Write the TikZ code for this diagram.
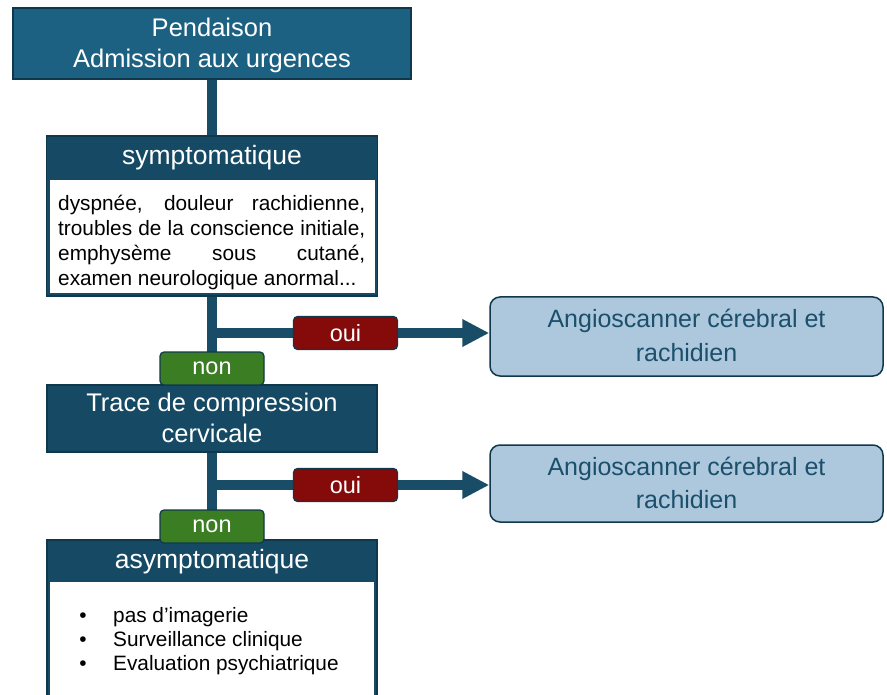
\documentclass[tikz,border=0pt]{standalone}
\usepackage{fontspec}
\setmainfont{Liberation Sans}
\usetikzlibrary{arrows.meta}
\definecolor{topfill}{HTML}{1C6182}
\definecolor{darkfill}{HTML}{164A64}
\definecolor{edge}{HTML}{10384C}
\definecolor{wirecol}{HTML}{194C66}
\definecolor{ouifill}{HTML}{850A0A}
\definecolor{nonfill}{HTML}{3B7D23}
\definecolor{angiofill}{HTML}{ADC8DC}
\definecolor{angiotext}{HTML}{1B4F6B}
\begin{document}
\begin{tikzpicture}[x=1pt,y=-1pt,
  box/.style={rectangle, draw=edge, line width=1.2pt, inner sep=0pt},
  bodyarea/.style={rectangle, fill=white, inner sep=0pt, outer sep=0pt},
  title/.style={text=white, inner sep=0pt, anchor=base, font=\fontsize{25.5pt}{31pt}\selectfont},
  head/.style={text=white, inner sep=0pt, anchor=base, font=\fontsize{26.5pt}{31pt}\selectfont},
  bodytext/.style={text=black, inner sep=0pt, font=\fontsize{20.8pt}{24.8pt}\selectfont},
  angio/.style={rectangle, rounded corners=10pt, draw=edge, line width=1.5pt, fill=angiofill,
    minimum width=393pt, inner sep=0pt},
  angiolabel/.style={text=angiotext, inner sep=0pt, anchor=base, font=\fontsize{25pt}{34pt}\selectfont},
  tag/.style={rectangle, rounded corners=4pt, draw=edge, line width=1.2pt, text=white,
    minimum width=104pt, minimum height=33pt, inner sep=0pt, font=\fontsize{23.5pt}{27pt}\selectfont},
  wire/.style={draw=wirecol, line width=10pt},
  arrowwire/.style={wire, -{Triangle[length=27pt,width=26pt]}}
]
\useasboundingbox (0,0) rectangle (887,695);
\clip (0,0) rectangle (887,695);
\fill[white] (0,0) rectangle (887,695);

% --- boxes ---
\node[box, fill=topfill, minimum width=398pt, minimum height=71pt] (top) at (212,43.5) {};
\node[title] (topA) at (212,37) {Pendaison};
\node[title] (topB) at (212,68) {Admission aux urgences};

\node[box, fill=darkfill, minimum width=331pt, minimum height=160pt] (sympt) at (212,216) {};
\node[bodyarea, minimum width=325pt, minimum height=113pt] (symptbody) at (212,236.5) {};
\node[head] (symptT) at (212,165) {symptomatique};
\node[bodytext, anchor=base west] (sl1) at (58,211) {\makebox[307pt][s]{dyspnée, douleur rachidienne,}};
\node[bodytext, anchor=base west] (sl2) at (58,236) {\makebox[307pt][s]{troubles de la conscience initiale,}};
\node[bodytext, anchor=base west] (sl3) at (58,260.5) {\makebox[307pt][s]{emphysème sous cutané,}};
\node[bodytext, anchor=base west] (sl4) at (58,285.5) {examen neurologique anormal...};

\node[box, fill=darkfill, minimum width=330pt, minimum height=67pt] (trace) at (212,418.5) {};
\node[title] (traceA) at (212,411) {Trace de compression};
\node[title] (traceB) at (212,442.5) {cervicale};

\node[box, fill=darkfill, minimum width=330pt, minimum height=200pt] (asympt) at (212,640) {};
\node[bodyarea, minimum width=324pt, minimum height=160pt] (asymptbody) at (212,662) {};
\node[head] (asymptT) at (212,568) {asymptomatique};
\node[bodytext, anchor=base] (d1) at (83,622) {•};
\node[bodytext, anchor=base] (d2) at (83,646) {•};
\node[bodytext, anchor=base] (d3) at (83,670.5) {•};
\node[bodytext, anchor=base west] (al1) at (113,622) {pas d’imagerie};
\node[bodytext, anchor=base west] (al2) at (113,646) {Surveillance clinique};
\node[bodytext, anchor=base west] (al3) at (113,670.5) {Evaluation psychiatrique};

\node[angio, minimum height=79pt] (angio1) at (686.5,336.5) {};
\node[angiolabel] (angio1A) at (686.5,327) {Angioscanner cérebral et};
\node[angiolabel] (angio1B) at (686.5,361) {rachidien};

\node[angio, minimum height=77pt] (angio2) at (686.5,483.5) {};
\node[angiolabel] (angio2A) at (686.5,475) {Angioscanner cérebral et};
\node[angiolabel] (angio2B) at (686.5,508.5) {rachidien};

% --- connectors ---
\draw[wire] (top.south) -- (sympt.north);
\draw[wire] (sympt.south) -- (trace.north);
\draw[wire] (trace.south) -- (asympt.north);
\coordinate (br1) at (212,333);
\coordinate (br2) at (212,485);
\draw[arrowwire] (br1) -- (br1 -| angio1.west);
\draw[arrowwire] (br2) -- (br2 -| angio2.west);

% --- decision tags ---
\node[tag, fill=ouifill] (oui1) at (345.5,333) {oui};
\node[tag, fill=ouifill] (oui2) at (345.5,485) {oui};
\node[tag, fill=nonfill] (non1) at (212,368.5) {non};
\node[tag, fill=nonfill] (non2) at (212,526.5) {non};
\end{tikzpicture}
\end{document}
